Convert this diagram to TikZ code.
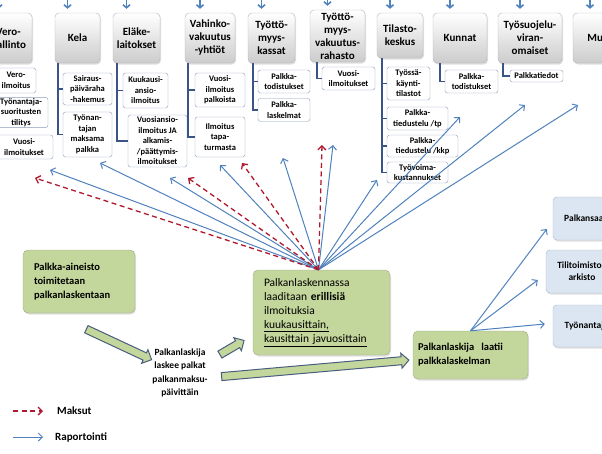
\documentclass[tikz,border=0pt]{standalone}
\usepackage{fontspec}
\setmainfont{Carlito}
\usetikzlibrary{arrows.meta, shapes.arrows, shadows}

\definecolor{repblue}{HTML}{4F81BD}
\definecolor{payred}{HTML}{B0182E}
\definecolor{treeblue}{HTML}{3A5488}
\definecolor{boxgray}{HTML}{B4B4B4}
\definecolor{itemline}{HTML}{8C9DB8}
\definecolor{greenfill}{HTML}{C3D69B}
\definecolor{greenline}{HTML}{A3AC8C}
\definecolor{bluefill}{HTML}{DCE6F2}
\definecolor{blueline}{HTML}{A7B6CB}
\definecolor{slate}{HTML}{4A5D7E}

\tikzset{
		org/.style={draw=boxgray, rounded corners=4pt, top color=white, bottom color=black!20,
			drop shadow={opacity=0.25, shadow xshift=1pt, shadow yshift=-1.5pt},
			align=center, inner sep=1pt, minimum height=50pt,
			font=\bfseries\fontsize{11}{13}\selectfont},
		item/.style={draw=itemline, fill=white, rounded corners=2.5pt, align=center, inner sep=1pt,
			font=\bfseries\fontsize{8.5}{10.5}\selectfont},
		phase/.style={draw=greenline, fill=greenfill, rounded corners=5pt, align=left,
			drop shadow={opacity=0.25, shadow xshift=1pt, shadow yshift=-1.5pt}},
		target/.style={draw=blueline, fill=bluefill, rounded corners=4pt, align=center,
			drop shadow={opacity=0.25, shadow xshift=1pt, shadow yshift=-1.5pt},
			font=\bfseries\fontsize{9.5}{12}\selectfont},
		tree/.style={draw=treeblue, line width=1.8pt},
		report/.style={-{Straight Barb[length=4pt, width=8pt]}, draw=repblue, line width=1pt},
		pay/.style={-{Straight Barb[length=4pt, width=8pt]}, draw=payred, line width=1.3pt,
			dash pattern=on 5pt off 3.5pt},
		down/.style={-{Straight Barb[length=3pt, width=7pt]}, draw=repblue, line width=1.6pt},
		block/.style={single arrow, draw=slate, fill=greenfill, line width=1pt, inner xsep=0pt,
			inner ysep=3.5pt, single arrow head extend=3.5pt, sloped, midway}
	}

\begin{document}
\begin{tikzpicture}[x=1pt, y=-1pt]
		\useasboundingbox (0,0) rectangle (602,453);

		% organisations on the top row
		\node[org, minimum width=47pt] (vero)    at (8.5,38)   {Vero-\\hallinto};
		\node[org, minimum width=45pt] (kela)    at (77.5,38)  {Kela};
		\node[org, minimum width=47pt] (elake)   at (136.5,38) {Eläke-\\laitokset};
		\node[org, minimum width=50pt] (vahinko) at (210,38)   {Vahinko-\\vakuutus\\-yhtiöt};
		\node[org, minimum width=47pt] (kassat)  at (271.5,38) {Työttö-\\myys-\\kassat};
		\node[org, minimum width=55pt, minimum height=52pt] (rahasto) at (337.5,36)
			{Työttö-\\myys-\\vakuutus-\\rahasto};
		\node[org, minimum width=46pt, minimum height=45pt] (tilasto) at (400,35.5) {Tilasto-\\keskus};
		\node[org, minimum width=54pt] (kunnat)  at (460,38)   {Kunnat};
		\node[org, minimum width=64pt] (suojelu) at (530,38)   {Työsuojelu-\\viran-\\omaiset};
		\node[org, minimum width=54pt] (muut)    at (600,38)   {Muut};

		\foreach \b in {vero, kela, elake, vahinko, kassat, rahasto, tilasto, kunnat, suojelu, muut}
			\draw[down] ([shift={(-10,-16)}]\b.north) -- ([shift={(-10,-4)}]\b.north);

		% reports of each organisation
		\node[item, minimum width=40pt, minimum height=25pt] (vero1) at (16,80.5)  {Vero-\\ilmoitus};
		\node[item, minimum width=54pt, minimum height=29pt] (vero2) at (21,112.5) {Työnantaja-\\suoritusten\\tilitys};
		\node[item, minimum width=58pt, minimum height=24pt] (vero3) at (24,147)   {Vuosi-\\ilmoitukset};

		\node[item, minimum width=49pt, minimum height=32pt] (kela1) at (87.5,89)    {Sairaus-\\päiväraha\\-hakemus};
		\node[item, minimum width=49pt, minimum height=45pt] (kela2) at (87.5,134.5) {Työnan-\\tajan\\maksama\\palkka};

		\node[item, minimum width=45pt, minimum height=35pt] (elake1) at (145.5,90.5) {Kuukausi-\\ansio-\\ilmoitus};
		\node[item, minimum width=59pt, minimum height=52pt] (elake2) at (157.5,141)
			{Vuosiansio-\\ilmoitus JA\\alkamis-\\/päättymis-\\ilmoitukset};

		\node[item, minimum width=50pt, minimum height=34pt] (vahinko1) at (220,90)  {Vuosi-\\ilmoitus\\palkoista};
		\node[item, minimum width=50pt, minimum height=40pt] (vahinko2) at (220,137) {Ilmoitus\\tapa-\\turmasta};

		\node[item, minimum width=52pt, minimum height=23pt] (kassat1) at (284,81.5) {Palkka-\\todistukset};
		\node[item, minimum width=52pt, minimum height=23pt] (kassat2) at (284,110)  {Palkka-\\laskelmat};

		\node[item, minimum width=53pt, minimum height=23pt] (rahasto1) at (348.5,78.5) {Vuosi-\\ilmoitukset};

		\node[item, minimum width=43pt, minimum height=33pt] (tilasto1) at (408.5,83.5) {Työssä-\\käynti-\\tilastot};
		\node[item, minimum width=61pt, minimum height=23pt] (tilasto2) at (417.5,118.5) {Palkka-\\tiedustelu /tp};
		\node[item, minimum width=71pt, minimum height=22pt] (tilasto3) at (422.5,146)   {Palkka-\\tiedustelu /kkp};
		\node[item, minimum width=61pt, minimum height=21pt] (tilasto4) at (417.5,172.5) {Työvoima-\\kustannukset};

		\node[item, minimum width=53pt, minimum height=23pt] (kunnat1) at (471.5,81.5) {Palkka-\\todistukset};

		\node[item, minimum width=53pt, minimum height=12pt] (suojelu1) at (536.5,76) {Palkkatiedot};

		\draw[tree] ([xshift=-6pt]vero1.west |- vero.south) |- (vero1.west);
		\draw[tree] ([xshift=-6pt]vero1.west |- vero.south) |- (vero2.west);
		\draw[tree] ([xshift=-6pt]vero1.west |- vero.south) |- (vero3.west);
		\draw[tree] ([xshift=-5pt]kela1.west |- kela.south) |- (kela1.west);
		\draw[tree] ([xshift=-5pt]kela1.west |- kela.south) |- (kela2.west);
		\draw[tree] ([xshift=-6pt]elake1.west |- elake.south) |- (elake1.west);
		\draw[tree] ([xshift=-6pt]elake1.west |- elake.south) |- (elake2.west);
		\draw[tree] ([xshift=-7pt]vahinko1.west |- vahinko.south) |- (vahinko1.west);
		\draw[tree] ([xshift=-7pt]vahinko1.west |- vahinko.south) |- (vahinko2.west);
		\draw[tree] ([xshift=-5pt]kassat1.west |- kassat.south) |- (kassat1.west);
		\draw[tree] ([xshift=-5pt]kassat1.west |- kassat.south) |- (kassat2.west);
		\draw[tree] ([xshift=-5pt]rahasto1.west |- rahasto.south) |- (rahasto1.west);
		\draw[tree] ([xshift=-5pt]tilasto1.west |- tilasto.south) |- (tilasto1.west);
		\draw[tree] ([xshift=-5pt]tilasto1.west |- tilasto.south) |- (tilasto2.west);
		\draw[tree] ([xshift=-5pt]tilasto1.west |- tilasto.south) |- (tilasto3.west);
		\draw[tree] ([xshift=-5pt]tilasto1.west |- tilasto.south) |- (tilasto4.west);
		\draw[tree] ([xshift=-5pt]kunnat1.west |- kunnat.south) |- (kunnat1.west);
		\draw[tree] ([xshift=-7pt]suojelu1.west |- suojelu.south) |- (suojelu1.west);

		% payroll steps
		\node[phase, text width=90pt, inner xsep=11pt, minimum height=63pt,
			font=\bfseries\fontsize{10.5}{14}\selectfont] (aine) at (79,281.5)
			{Palkka-aineisto\\toimitetaan\\palkanlaskentaan};
		\node[phase, text width=115pt, inner xsep=11pt, minimum height=85pt,
			font=\fontsize{11.5}{14}\selectfont] (ilm) at (321.5,312.5)
			{Palkanlaskennassa\\laaditaan \textbf{erillisiä}\\ilmoituksia\\
			\underline{kuukausittain,}\\\underline{kausittain javuosittain}};
		\node[phase, text width=105pt, inner xsep=5pt, minimum height=48pt,
			font=\bfseries\fontsize{10.5}{14}\selectfont] (lask) at (470.5,355)
			{Palkanlaskija\ \ laatii\\palkkalaskelman};
		\node[align=center, inner sep=2pt, font=\bfseries\fontsize{9.5}{13.5}\selectfont] (lpalk) at (180,373)
			{Palkanlaskija\\laskee palkat\\palkanmaksu-\\päivittäin};

		\path ([shift={(3,14)}]aine.south) -- ([shift={(2,-13)}]lpalk.west) node[block, minimum height=72pt] {};
		\path ([shift={(6,-16)}]lpalk.east) -- ([shift={(-8,27.5)}]ilm.west) node[block, minimum height=28pt] {};
		\path ([shift={(7,4)}]lpalk.east) -- ([shift={(-3,5)}]lask.west) node[block, minimum height=188pt] {};

		% receivers of the payslip
		\node[target, minimum width=72pt, minimum height=43pt] (palkansaaja) at (589,218.5) {Palkansaajat};
		\node[target, minimum width=72pt, minimum height=43pt] (tili)        at (582,271.5) {Tilitoimiston\\arkisto};
		\node[target, minimum width=67pt, minimum height=42pt] (tyonantaja)  at (586.5,326) {Työnantaja};

		\draw[report] (lask.north) -- ([shift={(-6,10.5)}]palkansaaja.west);
		\draw[report] (lask.north) -- ([shift={(-8,8.5)}]tili.west);
		\draw[report] (lask.north) -- ([shift={(-8,-2)}]tyonantaja.west);

		% reporting and payments fan out of the payroll
		\coordinate (src) at ([xshift=-3pt]ilm.north);
		\foreach \n/\x/\y in {1/35/178, 2/188/178, 3/242/163, 4/322/145}
			\coordinate (pay\n) at (\x,\y);
		\foreach \n/\x/\y in {1/50/170, 2/100/163, 3/170/178, 4/220/165, 5/283/158,
			6/333/145, 7/377/180, 8/460/117, 9/525/105, 10/578/105}
			\coordinate (rep\n) at (\x,\y);
		\foreach \n in {1,...,10}
			\draw[report] (src) -- (rep\n);
		\foreach \n in {1,...,4}
			\draw[pay] (src) -- (pay\n);

		% legend
		\node[anchor=west, inner sep=0pt, font=\bfseries\fontsize{11}{13}\selectfont] (lmaksut) at (57,411) {Maksut};
		\node[anchor=west, inner sep=0pt, font=\bfseries\fontsize{11}{13}\selectfont] (lrap) at (55,437) {Raportointi};
		\draw[pay] ([xshift=-44pt]lmaksut.west) -- ([xshift=-14pt]lmaksut.west);
		\draw[report] ([xshift=-42pt]lrap.west) -- ([xshift=-12pt]lrap.west);

	\end{tikzpicture}
\end{document}
